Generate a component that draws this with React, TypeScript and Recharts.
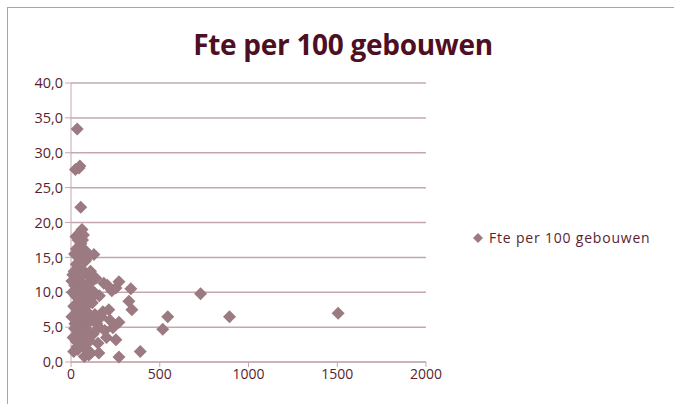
import React from 'react';
import { ScatterChart, Scatter, XAxis, YAxis, CartesianGrid } from 'recharts';

const seriesName = 'Fte per 100 gebouwen';
const xTicks = [0, 500, 1000, 1500, 2000];
const yTicks = [0, 5, 10, 15, 20, 25, 30, 35, 40];

const xValues = [
  35, 25, 50, 45, 55, 62, 50, 70, 40, 56, 30, 80, 20, 129, 60, 100,
  140, 185, 270, 253, 337, 326, 343, 213, 180, 270, 236, 157, 253, 152, 157, 112, 270, 390, 517, 545, 730, 893, 1505,
  10, 15, 20, 22, 25, 28, 30, 32, 35, 38, 40, 42, 45, 48, 50, 52, 55, 58, 60, 62, 65, 68, 70, 72, 75, 78, 80, 82, 85, 88, 90, 92, 95, 98, 100, 105, 108, 110, 115, 120, 125, 130, 135, 145, 160, 170, 190, 200, 205, 220, 230,
  15, 5, 8, 12, 18, 28, 45, 65, 90, 110, 75, 100, 5, 20, 35, 60,
];
const yValues = [
  33.4, 27.6, 28.1, 27.8, 22.2, 19.0, 18.5, 18.2, 17.5, 17.0, 16.2, 16.0, 15.5, 15.4, 15.0, 15.2,
  12.0, 11.3, 11.5, 10.6, 10.5, 8.7, 7.5, 7.5, 7.2, 5.7, 4.9, 5.0, 3.2, 2.7, 1.3, 1.3, 0.7, 1.5, 4.7, 6.5, 9.8, 6.5, 7.0,
  12.5, 8.0, 11.0, 5.5, 9.5, 3.0, 14.0, 7.0, 10.5, 1.8, 12.0, 6.0, 9.0, 4.0, 13.5, 2.5, 8.5, 11.5, 5.0, 16.0, 7.5, 10.0, 3.5, 13.0, 6.5, 9.5, 2.0, 14.5, 8.0, 11.0, 5.5, 12.5, 4.5, 7.0, 10.5, 3.0, 9.0, 6.0, 11.5, 8.5, 4.0, 10.0, 6.8, 5.5, 9.5, 6.5, 4.5, 3.5, 11.0, 6.0, 10.2,
  1.5, 6.5, 10.0, 3.5, 13.0, 18.0, 16.5, 17.5, 15.5, 13.0, 0.8, 1.0, 11.6, 4.8, 2.2, 8.2,
];

const data = xValues.map((x, i) => ({ x, y: yValues[i] }));

const markerColor = '#9C7A82';
const textColor = '#5A1E2E';
const gridColor = '#C4A8AE';
const font = 'Open Sans, sans-serif';

const Diamond = (props: any) => {
  const { cx, cy } = props;
  const r = 6.5;
  return (
    <polygon
      points={`${cx},${cy - r} ${cx + r},${cy} ${cx},${cy + r} ${cx - r},${cy}`}
      fill={markerColor}
    />
  );
};

const fmtY = (v: number) => v.toFixed(1).replace('.', ',');

export default function App() {
  return (
    <div style={{ position: 'absolute', left: 0, top: 0, width: 674, height: 404, overflow: 'hidden', background: '#fff' }}>
      <div style={{ position: 'absolute', left: 7, top: 7, width: 700, height: 420, border: '1px solid #B79EA4' }} />
      <div
        style={{
          position: 'absolute', left: 0, top: 24, width: 686, textAlign: 'center', lineHeight: '40px',
          fontFamily: font, fontWeight: 700, fontSize: 28, color: '#4E0F22', letterSpacing: -0.3,
        }}
      >
        {seriesName}
      </div>
      <div
        style={{
          position: 'absolute', left: 472, top: 228, display: 'flex', alignItems: 'center',
          fontFamily: font, fontSize: 14, color: textColor, lineHeight: '20px', letterSpacing: 0.8,
        }}
      >
        <svg width={12} height={12} style={{ marginRight: 5 }}>
          <polygon points="6,1 11,6 6,11 1,6" fill={markerColor} />
        </svg>
        <span>{seriesName}</span>
      </div>
      <div style={{ position: 'absolute', left: 0, top: 0 }}>
        <ScatterChart width={674} height={404} margin={{ top: 83, right: 248, bottom: 0, left: 2 }}>
          <CartesianGrid horizontal={true} vertical={false} stroke={gridColor} strokeWidth={1.5} />
          <XAxis
            type="number"
            dataKey="x"
            domain={[0, 2000]}
            ticks={xTicks}
            interval={0}
            stroke={gridColor}
            tickSize={5}
            tick={{ fill: textColor, fontSize: 14, fontFamily: font }}
            height={42}
          />
          <YAxis
            type="number"
            dataKey="y"
            domain={[0, 40]}
            ticks={yTicks}
            interval={0}
            stroke={gridColor}
            tickSize={6}
            tickFormatter={fmtY}
            tick={{ fill: textColor, fontSize: 14.5, fontFamily: font }}
            width={69}
          />
          <Scatter name={seriesName} data={data} shape={<Diamond />} isAnimationActive={false} />
        </ScatterChart>
      </div>
    </div>
  );
}
